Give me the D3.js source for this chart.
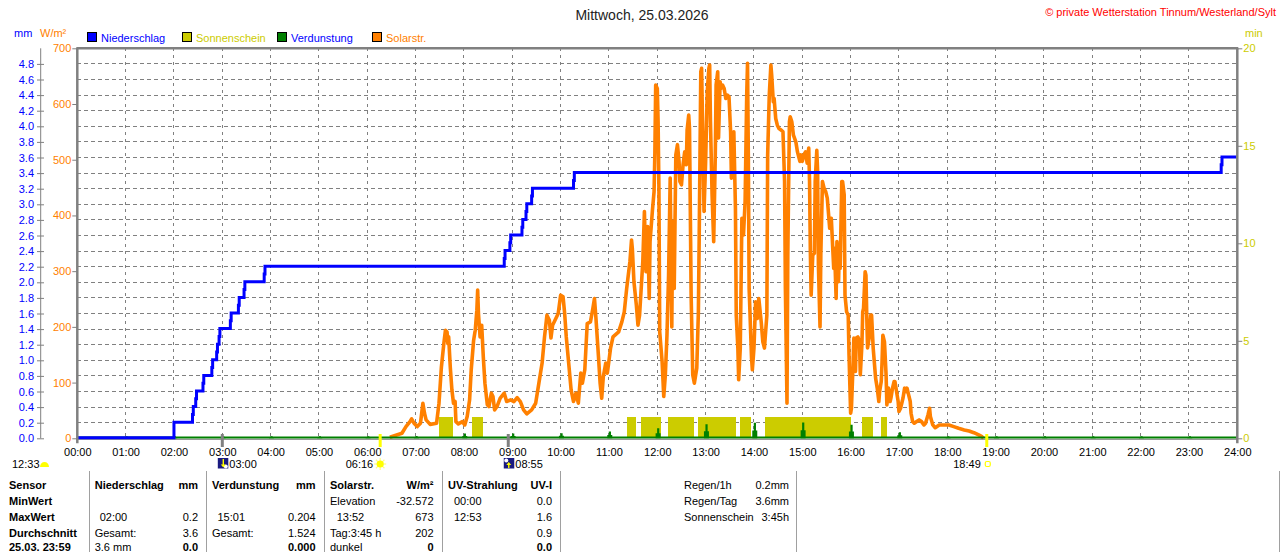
<!DOCTYPE html>
<html><head><meta charset="utf-8">
<script src="https://cdn.jsdelivr.net/npm/d3@7"></script>
<style>
body{margin:0;background:#fff;}
svg{display:block;font-family:"Liberation Sans",Arial,sans-serif;}
</style></head><body>
<svg id="c" width="1280" height="552"></svg>
<script>
// ---------- data ----------
const titleText = "Mittwoch, 25.03.2026";
const copyrightText = "© private Wetterstation Tinnum/Westerland/Sylt";
const hourLabels = ["00:00","01:00","02:00","03:00","04:00","05:00","06:00","07:00","08:00","09:00","10:00","11:00","12:00","13:00","14:00","15:00","16:00","17:00","18:00","19:00","20:00","21:00","22:00","23:00","24:00"];
const mmTicks = [0,0.2,0.4,0.6,0.8,1.0,1.2,1.4,1.6,1.8,2.0,2.2,2.4,2.6,2.8,3.0,3.2,3.4,3.6,3.8,4.0,4.2,4.4,4.6,4.8];
const wTicks = [0,100,200,300,400,500,600,700];
const minTicks = [0,5,10,15,20];
const legendNames = ["Niederschlag","Sonnenschein","Verdunstung","Solarstr."];

// Niederschlag (cumulative mm)
const rainTimes = ["00:00","02:00","02:23","02:24","02:27","02:28","02:36","02:37","02:47","02:48","02:53","02:54","02:56","02:57","03:10","03:11","03:20","03:21","03:27","03:28","03:52","03:53","08:50","08:51","08:57","08:58","09:12","09:13","09:17","09:18","09:24","09:25","10:16","10:17","23:40","23:41","24:00"];
const rainValues = [0,0.2,0.3,0.4,0.5,0.6,0.7,0.8,0.9,1.0,1.1,1.2,1.3,1.4,1.5,1.6,1.7,1.8,1.9,2.0,2.1,2.2,2.3,2.4,2.5,2.6,2.7,2.8,2.9,3.0,3.1,3.2,3.3,3.4,3.5,3.6,3.6];

// Sonnenschein intervals (min per min)
const sunStart = ["07:29","08:10","11:23","11:40","12:13","12:50","13:43","14:14","16:14","16:38"];
const sunEnd   = ["07:46","08:24","11:34","12:05","12:45","13:38","13:56","16:00","16:28","16:45"];
const sunValue = 1.1;

// Verdunstung (mm)
const evapTimes = ["01:01","02:01","03:01","04:01","05:01","06:01","07:01","08:01","09:01","10:01","11:01","12:01","13:01","14:01","15:01","16:01","17:01","18:01","19:01","20:01","21:01","22:01","23:01"];
const evapValues = [0.006,0.006,0.008,0.006,0.006,0.006,0.03,0.06,0.06,0.065,0.086,0.13,0.18,0.198,0.204,0.175,0.077,0.02,0.01,0.01,0.01,0.01,0.01];

// Solarstrahlung (W/m²)
const solarTimes = ["06:28","06:43","06:48","06:53","06:55","06:58","07:02","07:06","07:09","07:11","07:13","07:18","07:26","07:29","07:32","07:35","07:37","07:39","07:40","07:41","07:43","07:45","07:47","07:49","07:50","07:53","07:58","08:01","08:04","08:07","08:09","08:12","08:14","08:16","08:17","08:18","08:20","08:22","08:24","08:26","08:29","08:31","08:34","08:36","08:38","08:41","08:45","08:50","08:53","08:58","09:02","09:06","09:10","09:14","09:18","09:24","09:29","09:33","09:37","09:40","09:43","09:46","09:48","09:50","09:53","09:57","10:00","10:03","10:05","10:07","10:10","10:13","10:16","10:19","10:22","10:25","10:27","10:30","10:33","10:37","10:40","10:42","10:44","10:47","10:49","10:51","10:53","10:56","10:58","11:02","11:05","11:12","11:16","11:19","11:22","11:26","11:28","11:29","11:31","11:34","11:36","11:38","11:40","11:42","11:44","11:46","11:48","11:50","11:51","11:54","11:56","11:57","11:58","12:00","12:01","12:02","12:03","12:06","12:08","12:10","12:12","12:14","12:16","12:18","12:19","12:21","12:23","12:25","12:27","12:28","12:30","12:32","12:34","12:36","12:37","12:39","12:40","12:42","12:44","12:46","12:49","12:51","12:52","12:54","12:55","12:57","12:58","13:00","13:02","13:04","13:05","13:06","13:08","13:10","13:12","13:13","13:15","13:16","13:18","13:19","13:21","13:23","13:25","13:27","13:29","13:31","13:32","13:34","13:35","13:37","13:38","13:40","13:41","13:43","13:45","13:47","13:49","13:51","13:52","13:53","13:54","13:57","13:58","14:00","14:02","14:04","14:06","14:09","14:11","14:13","14:16","14:17","14:19","14:21","14:22","14:24","14:25","14:27","14:29","14:31","14:34","14:36","14:38","14:39","14:41","14:42","14:44","14:45","14:47","14:49","14:52","14:54","14:57","14:58","15:00","15:02","15:04","15:06","15:08","15:09","15:10","15:11","15:13","15:15","15:16","15:18","15:19","15:20","15:22","15:23","15:25","15:27","15:29","15:31","15:32","15:34","15:36","15:37","15:39","15:40","15:42","15:43","15:45","15:46","15:47","15:49","15:50","15:52","15:53","15:55","15:57","15:58","16:00","16:01","16:03","16:04","16:06","16:07","16:09","16:11","16:12","16:14","16:15","16:16","16:18","16:19","16:20","16:21","16:23","16:25","16:26","16:28","16:30","16:31","16:33","16:35","16:36","16:38","16:39","16:40","16:42","16:44","16:45","16:47","16:49","16:50","16:52","16:54","16:55","16:57","16:59","17:00","17:02","17:04","17:05","17:07","17:09","17:10","17:12","17:14","17:15","17:17","17:19","17:22","17:25","17:28","17:31","17:33","17:36","17:38","17:39","17:42","17:45","17:50","17:56","18:02","18:08","18:14","18:21","18:27","18:33","18:39","18:43","18:45"];
const solarValues = [2,9,21,30,35,27,21,27,63,45,33,25,27,63,128,170,194,191,170,182,128,87,63,66,30,26,30,24,39,69,123,176,194,230,266,224,182,203,146,99,60,57,81,75,51,57,72,81,66,69,66,73,66,51,44,51,63,99,135,182,221,212,180,203,212,224,257,254,224,182,135,87,66,81,63,117,99,123,206,209,233,251,212,146,99,72,111,135,117,162,182,191,209,227,269,317,356,341,281,239,203,221,269,317,407,299,380,251,353,410,443,514,634,628,568,449,191,137,75,114,185,293,467,200,389,269,509,527,497,461,455,491,514,491,553,580,556,257,114,99,126,227,359,658,664,497,407,497,622,664,670,568,437,353,509,634,658,539,640,628,634,628,610,616,613,550,467,509,550,413,221,162,105,162,395,365,425,616,673,509,269,144,123,162,245,215,251,209,173,162,221,509,616,670,652,604,610,574,562,556,553,550,461,269,63,329,568,577,568,544,532,514,497,509,497,509,514,494,521,461,335,257,329,332,461,517,479,311,200,329,461,449,443,431,413,377,395,365,305,341,251,353,281,341,305,461,461,437,257,227,221,150,45,54,132,180,120,180,182,173,114,168,227,233,299,293,221,162,180,221,221,162,126,108,90,66,84,102,137,185,173,114,60,90,66,72,90,102,102,84,66,48,54,66,72,90,84,90,78,66,45,30,27,30,33,30,24,27,42,54,39,24,19,24,24,24,21,18,15,13,10,6,3,0];

// Astronomy markers
const dayLength = "12:33";
const moonSet = "03:00";
const moonRise = "08:55";
const sunRise = "06:16";
const sunSet = "18:49";

// Table
const tableCol0 = ["Sensor","MinWert","MaxWert","Durchschnitt","25.03. 23:59"];
const rainCol = [["Niederschlag","mm"],["",""],["02:00","0.2"],["Gesamt:","3.6"],["3.6 mm","0.0"]];
const evapCol = [["Verdunstung","mm"],["",""],["15:01","0.204"],["Gesamt:","1.524"],["","0.000"]];
const solarCol = [["Solarstr.","W/m²"],["Elevation","-32.572"],["13:52","673"],["Tag:3:45 h","202"],["dunkel","0"]];
const uvCol = [["UV-Strahlung","UV-I"],["00:00","0.0"],["12:53","1.6"],["","0.9"],["","0.0"]];
const summaryRows = [["Regen/1h","0.2mm"],["Regen/Tag","3.6mm"],["Sonnenschein","3:45h"]];

// ---------- setup ----------
const C = {blue:"#0000ff", orange:"#ff8000", sun:"#cccc00", green:"#008000", grid:"#808080", frame:"#808080"};
const tm = s => { const p = s.split(":").map(Number); return p[0]*60+p[1]; };
const L = 77.3, R = 1237.3, T = 48.3, B = 438.3;
const svg = d3.select("#c");
const x = d3.scaleLinear().domain([0,1440]).range([L,R]);
const yMm = d3.scaleLinear().domain([0,5]).range([B,T]);
const yW = d3.scaleLinear().domain([0,700]).range([B,T]);
const yMin = d3.scaleLinear().domain([0,20]).range([B,T]);

// grid
const g = svg.append("g");
g.selectAll("line.h").data(mmTicks.filter(d=>d>0)).join("line")
  .attr("x1",L).attr("x2",R).attr("y1",d=>yMm(d)).attr("y2",d=>yMm(d))
  .attr("stroke",C.grid).attr("stroke-dasharray","4,3").attr("shape-rendering","crispEdges");
g.selectAll("line.v").data(hourLabels.slice(1,-1)).join("line")
  .attr("x1",d=>x(tm(d))).attr("x2",d=>x(tm(d))).attr("y1",T).attr("y2",B)
  .attr("stroke",C.grid).attr("stroke-dasharray","3,4").attr("shape-rendering","crispEdges");

// sunshine bars
svg.append("g").selectAll("rect").data(sunStart.map((s,i)=>({s:tm(s),e:tm(sunEnd[i])}))).join("rect")
  .attr("x",d=>x(d.s)).attr("width",d=>x(d.e)-x(d.s))
  .attr("y",yMin(sunValue)).attr("height",yMin(0)-yMin(sunValue))
  .attr("fill",C.sun).attr("shape-rendering","crispEdges");

// solar line
const solar = solarTimes.map((t,i)=>({t:tm(t),v:solarValues[i]}));
svg.append("path").datum(solar)
  .attr("d",d3.line().x(d=>x(d.t)).y(d=>yW(d.v)))
  .attr("fill","none").attr("stroke",C.orange).attr("stroke-width",3.6).attr("stroke-linejoin","round");

// frame bottom & evaporation
svg.append("line").attr("x1",L).attr("x2",R).attr("y1",B+1).attr("y2",B+1).attr("stroke",C.frame).attr("stroke-width",1);
svg.append("line").attr("x1",x(0)).attr("x2",x(1440)).attr("y1",yMm(0)-0.8).attr("y2",yMm(0)-0.8)
  .attr("stroke",C.green).attr("stroke-width",2);
svg.append("g").selectAll("path").data(evapTimes.map((t,i)=>({t:tm(t),v:evapValues[i]}))).join("path")
  .attr("d",d=>{
    const cx=x(d.t), b=yMm(0), top=Math.min(yMm(d.v), b-2), mid=(b+top)/2;
    return `M${cx-2.5},${b}V${mid}H${cx-1}V${top}H${cx+1.2}V${mid}H${cx+2.5}V${b}Z`;
  }).attr("fill",C.green);

// rain line
const rain = rainTimes.map((t,i)=>({t:tm(t),v:rainValues[i]}));
svg.append("path").datum(rain)
  .attr("d",d3.line().curve(d3.curveStepAfter).x(d=>x(d.t)).y(d=>yMm(d.v)-0.5))
  .attr("fill","none").attr("stroke",C.blue).attr("stroke-width",3);

// frame
svg.append("line").attr("x1",L-1).attr("x2",R+1).attr("y1",T).attr("y2",T).attr("stroke",C.frame).attr("stroke-width",2.5);
svg.append("line").attr("x1",L).attr("x2",L).attr("y1",T).attr("y2",B+5).attr("stroke",C.frame).attr("stroke-width",2.5);
svg.append("line").attr("x1",R).attr("x2",R).attr("y1",T).attr("y2",B+5).attr("stroke",C.frame).attr("stroke-width",2.5);

// axes
function styleAxis(sel,color){
  sel.select(".domain").remove();
  sel.selectAll("text").attr("fill",color).style("font-size","11px").style("font-family",'"Liberation Sans",Arial,sans-serif');
  sel.selectAll("line").attr("stroke",C.frame);
}
svg.append("line").attr("x1",40.7).attr("x2",40.7).attr("y1",T).attr("y2",B).attr("stroke",C.frame);
svg.append("g").attr("transform","translate(44,0)")
  .call(d3.axisLeft(yMm).tickValues(mmTicks).tickFormat(d3.format(".1f")).tickSize(7).tickPadding(3))
  .call(s=>styleAxis(s,C.blue));
svg.append("g").attr("transform",`translate(${L},0)`)
  .call(d3.axisLeft(yW).tickValues(wTicks).tickSize(5).tickPadding(1))
  .call(s=>styleAxis(s,C.orange));
svg.append("g").attr("transform",`translate(${R},0)`)
  .call(d3.axisRight(yMin).tickValues(minTicks).tickSize(5).tickPadding(1))
  .call(s=>styleAxis(s,C.sun));
svg.append("g").attr("transform",`translate(0,${B})`)
  .call(d3.axisBottom(x).tickValues(hourLabels.map(tm)).tickFormat((d,i)=>hourLabels[i]).tickSize(0).tickPadding(10))
  .call(s=>styleAxis(s,"#000"));

// titles
const txt = (xx,yy,s,o={}) => svg.append("text").attr("x",xx).attr("y",yy).text(s)
  .attr("font-size",o.size||11).attr("fill",o.fill||"#000").attr("text-anchor",o.anchor||"start")
  .attr("font-weight",o.bold?"bold":"normal");
txt(642,20,titleText,{size:14,anchor:"middle",fill:"#222"});
txt(1276,16,copyrightText,{anchor:"end",fill:"#ff0000"});
txt(14,37,"mm",{fill:C.blue});
txt(40,37,"W/m²",{fill:C.orange});
txt(1245,37,"min",{fill:C.sun});

// legend
const legCols = [C.blue,C.sun,C.green,C.orange];
const legText = [C.blue,C.sun,C.blue,C.orange];
const legX = [87,182,277,372];
legendNames.forEach((n,i)=>{
  svg.append("rect").attr("x",legX[i]+0.5).attr("y",32.5).attr("width",9).attr("height",9)
    .attr("fill",legCols[i]).attr("stroke","#000").attr("stroke-width",1);
  txt(legX[i]+14,42,n,{fill:legText[i]});
});

// astronomy markers
[sunRise,sunSet].forEach(t=>svg.append("line").attr("x1",x(tm(t))).attr("x2",x(tm(t))).attr("y1",434).attr("y2",447).attr("stroke","#ffff00").attr("stroke-width",3));
[moonSet,moonRise].forEach(t=>svg.append("line").attr("x1",x(tm(t))).attr("x2",x(tm(t))).attr("y1",434).attr("y2",447).attr("stroke",C.frame).attr("stroke-width",3));
txt(12,468,dayLength);
svg.append("path").attr("d","M40,467 a4.5,5 0 0 1 9,0 Z").attr("fill","#ffff00");
function moonIcon(cx,up){
  const gg = svg.append("g").attr("transform",`translate(${cx-5},458)`);
  gg.append("rect").attr("width",10.5).attr("height",10.5).attr("fill","#1a1a80");
  gg.append("circle").attr("cx",up?2.5:8).attr("cy",up?2.5:8.5).attr("r",2).attr("fill","#fff");
  gg.append("path").attr("d", up ? "M5,4 L2.5,7 H4.3 V10 H5.7 V7 H7.5 Z" : "M3,6.5 L5.5,9.5 L8,6.5 H6.2 V1 H4.8 V6.5 Z").attr("fill","#ffff00");
}
moonIcon(x(tm(moonSet))+0.5,false); txt(x(tm(moonSet))+7,468,moonSet);
moonIcon(x(tm(moonRise))+0.5,true); txt(x(tm(moonRise))+7,468,moonRise);
txt(x(tm(sunRise))-7,468,sunRise,{anchor:"end"});
const sr = svg.append("g").attr("transform",`translate(${x(tm(sunRise))},464)`);
d3.range(8).forEach(k=>{const a=k*Math.PI/4; sr.append("line").attr("x1",Math.cos(a)*3).attr("y1",Math.sin(a)*3).attr("x2",Math.cos(a)*6).attr("y2",Math.sin(a)*6).attr("stroke","#ffff80").attr("stroke-width",1.2);});
sr.append("circle").attr("r",3.6).attr("fill","#ffff00");
txt(x(tm(sunSet))-6,468,sunSet,{anchor:"end"});
svg.append("rect").attr("x",x(tm(sunSet))-1.5).attr("y",461.5).attr("width",5).attr("height",5).attr("rx",1.5).attr("fill","none").attr("stroke","#ffff00").attr("stroke-width",1.2);

// table
[89,206,324,442,560,796,1279.5].forEach(xx=>svg.append("line").attr("x1",xx).attr("x2",xx).attr("y1",471).attr("y2",552).attr("stroke","#a0a0a0").attr("shape-rendering","crispEdges"));
const rowY = [489,505,521,536.5,550.5];
tableCol0.forEach((s,i)=>txt(9,rowY[i],s,{bold:true}));
function col(data,lx,rx,indent){
  data.forEach((r,i)=>{
    const bold = i===0, lastBold = i===4;
    const ind = (i===0||r[0].startsWith("Gesamt")||r[0]==="Elevation"||r[0].startsWith("Tag")||r[0]==="dunkel"||r[0].endsWith("mm")&&r[0].length>3)?0:indent;
    if(r[0]) txt(lx+ind,rowY[i],r[0],{bold});
    if(r[1]) txt(rx,rowY[i],r[1],{bold:bold||lastBold,anchor:"end"});
  });
}
col(rainCol,94.7,198,5);
col(evapCol,212,315.5,5.5);
col(solarCol,330,433.5,6.7);
col(uvCol,448,552,6);
summaryRows.forEach((r,i)=>{ txt(684,rowY[i],r[0]); txt(789,rowY[i],r[1],{anchor:"end"}); });
</script>
</body></html>
